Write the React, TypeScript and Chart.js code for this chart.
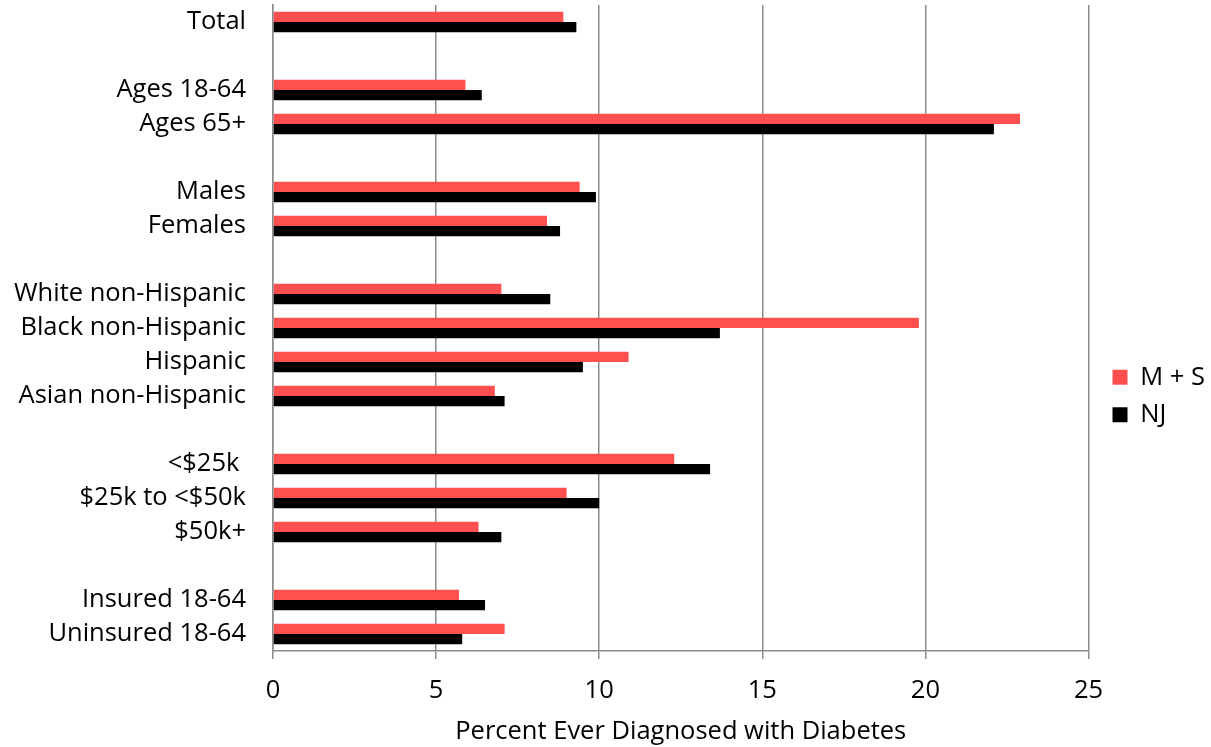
import React, { useEffect, useRef } from "react";
import { Chart, registerables } from "chart.js";

Chart.register(...registerables);

const categories = [
  "Total", "",
  "Ages 18-64", "Ages 65+", "",
  "Males", "Females", "",
  "White non-Hispanic", "Black non-Hispanic", "Hispanic", "Asian non-Hispanic", "",
  "<$25k ", "$25k to <$50k", "$50k+", "",
  "Insured 18-64", "Uninsured 18-64",
];

const msValues = [8.9, null, 5.9, 22.9, null, 9.4, 8.4, null, 7.0, 19.8, 10.9, 6.8, null, 12.3, 9.0, 6.3, null, 5.7, 7.1];
const njValues = [9.3, null, 6.4, 22.1, null, 9.9, 8.8, null, 8.5, 13.7, 9.5, 7.1, null, 13.4, 10.0, 7.0, null, 6.5, 5.8];

const seriesNames = ["M + S", "NJ"];
const xTicks = [0, 5, 10, 15, 20, 25];
const xTitle = "Percent Ever Diagnosed with Diabetes";

const FONT = "'Open Sans', sans-serif";
const FS = 25.5;

const legendShift = {
  id: "legendShift",
  afterLayout(chart: any) {
    const lg = chart.legend;
    if (lg) {
      lg.left += 12;
      lg.right += 12;
    }
  },
};

export default function App() {
  const ref = useRef<HTMLCanvasElement | null>(null);

  useEffect(() => {
    document.body.style.margin = "0";
    const ctx = ref.current!;
    const chart = new Chart(ctx, {
      type: "bar",
      data: {
        labels: categories,
        datasets: [
          {
            label: seriesNames[0],
            data: msValues as any,
            backgroundColor: "#FF4F4F",
            borderWidth: 0,
            categoryPercentage: 0.6,
            barPercentage: 1.0,
          },
          {
            label: seriesNames[1],
            data: njValues as any,
            backgroundColor: "#000000",
            borderWidth: 0,
            categoryPercentage: 0.6,
            barPercentage: 1.0,
          },
        ],
      },
      plugins: [legendShift],
      options: {
        indexAxis: "y",
        animation: false,
        responsive: false,
        maintainAspectRatio: false,
        layout: { padding: { top: 5, right: 8, bottom: 0, left: 0 } },
        plugins: {
          legend: {
            position: "right",
            title: {
              display: true,
              text: " ",
              font: { size: 10 },
              padding: { top: 14, bottom: 14 },
            },
            labels: {
              boxWidth: 15,
              boxHeight: 15,
              padding: 12,
              color: "#000",
              font: { family: FONT, size: FS },
            },
          },
          tooltip: { enabled: false },
        },
        scales: {
          x: {
            min: 0,
            max: 25,
            afterBuildTicks: (scale: any) => {
              scale.ticks = xTicks.map((v) => ({ value: v }));
            },
            afterFit: (scale: any) => {
              scale.height = 96;
              scale.paddingLeft = 0;
              scale.paddingRight = 0;
            },
            grid: {
              color: "#8c8c8c",
              lineWidth: 1.5,
              drawTicks: true,
              tickLength: 8,
            },
            border: { display: true, color: "#8c8c8c", width: 1.5 },
            ticks: {
              color: "#000",
              font: { family: FONT, size: FS },
              padding: 16,
              maxRotation: 0,
            },
            title: {
              display: true,
              text: xTitle,
              color: "#000",
              font: { family: FONT, size: FS },
              padding: { top: 4, bottom: 0 },
            },
          },
          y: {
            afterFit: (scale: any) => {
              scale.width = 273;
              scale.paddingTop = 0;
              scale.paddingBottom = 0;
            },
            grid: { display: false, drawTicks: false },
            border: { display: true, color: "#8c8c8c", width: 1.5 },
            ticks: {
              color: "#000",
              font: { family: FONT, size: FS },
              padding: 27,
              autoSkip: false,
            },
          },
        },
      },
    });
    return () => chart.destroy();
  }, []);

  return (
    <div style={{ width: 1211, height: 747 }}>
      <canvas ref={ref} width={1211} height={747} style={{ display: "block" }} />
    </div>
  );
}
